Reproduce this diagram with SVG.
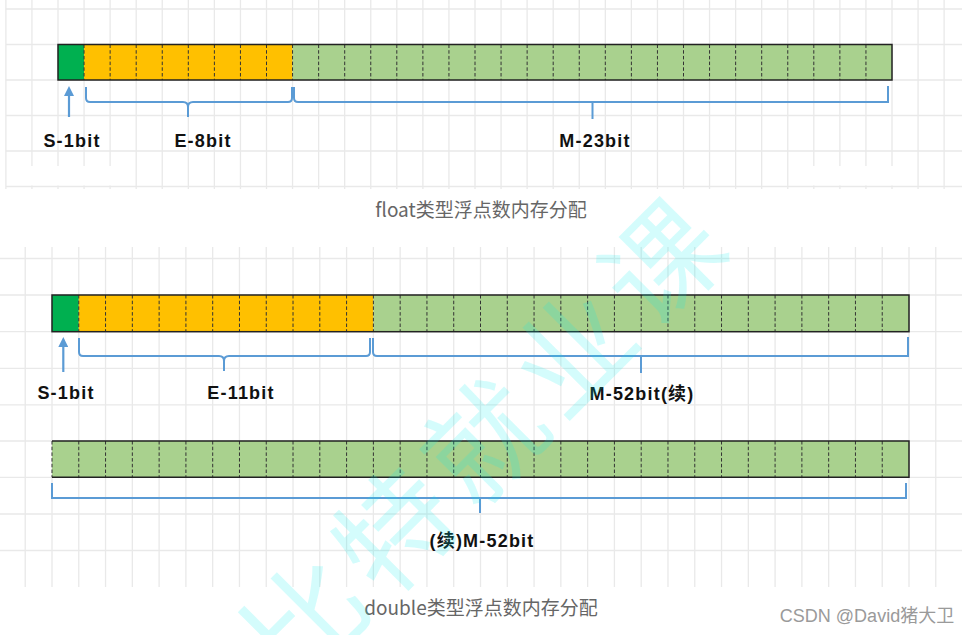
<svg xmlns="http://www.w3.org/2000/svg" width="973" height="635" viewBox="0 0 973 635">
<style>
.grid{stroke:#e9e9e9;stroke-width:1.3;fill:none}
.bar{stroke:#222;stroke-width:1.5}
.div{stroke:#333;stroke-width:1;stroke-dasharray:3.5 2.2;fill:none}
.brace{stroke:#5b9bd5;stroke-width:2;fill:none}
.arrow{stroke:#5b9bd5;stroke-width:2.2;fill:none}
.lbl{font-family:"Liberation Sans","Noto Sans CJK SC",sans-serif;font-weight:bold;font-size:18px;fill:#111;letter-spacing:1.2px;text-anchor:middle}
.cap{font-family:"Noto Sans CJK SC","Noto Sans",sans-serif;font-size:19px;fill:#666;text-anchor:middle}
.s{fill:#00b050}.e{fill:#ffc000}.m{fill:#a9d18e}
</style>
<defs>
<marker id="ah" markerUnits="userSpaceOnUse" markerWidth="10" markerHeight="10" viewBox="0 0 10 10" refX="1" refY="5" orient="auto">
<path d="M0,0 L10,5 L0,10 z" fill="#5b9bd5"/>
</marker>
</defs>
<rect width="973" height="635" fill="#fff"/>
<g id="grid-top">
<path class="grid" d="M5.88,0V189M31.94,0V189M58,0V189M84.06,0V189M110.13,0V189M136.19,0V189M162.25,0V189M188.31,0V189M214.38,0V189M240.44,0V189M266.5,0V189M292.56,0V189M318.63,0V189M344.69,0V189M370.75,0V189M396.81,0V189M422.88,0V189M448.94,0V189M475,0V189M501.06,0V189M527.13,0V189M553.19,0V189M579.25,0V189M605.31,0V189M631.38,0V189M657.44,0V189M683.5,0V189M709.56,0V189M735.63,0V189M761.69,0V189M787.75,0V189M813.81,0V189M839.88,0V189M865.94,0V189M892,0V189M918.06,0V189M944.13,0V189"/>
<rect x="9" y="166" width="124" height="19.5" fill="#fff"/>
<rect x="792" y="166" width="124" height="19.5" fill="#fff"/>
<path class="grid" d="M5.88,9H962M5.88,44.5H962M5.88,80H962M5.88,115.5H962M5.88,151H962M5.88,186.5H962"/>
</g>
<g id="grid-bottom">
<path class="grid" d="M25.22,247V587M52,247V587M78.78,247V587M105.56,247V587M132.34,247V587M159.13,247V587M185.91,247V587M212.69,247V587M239.47,247V587M266.25,247V587M293.03,247V587M319.81,247V587M346.59,247V587M373.38,247V587M400.16,247V587M426.94,247V587M453.72,247V587M480.5,247V587M507.28,247V587M534.06,247V587M560.84,247V587M587.63,247V587M614.41,247V587M641.19,247V587M667.97,247V587M694.75,247V587M721.53,247V587M748.31,247V587M775.09,247V587M801.88,247V587M828.66,247V587M855.44,247V587M882.22,247V587M909,247V587M935.78,247V587"/>
<path class="grid" d="M0,258.5H962M0,295H962M0,331.7H962M0,368.3H962M0,404.9H962M0,441H962M0,477.3H962M0,514H962M0,550.5H962"/>
</g>
<g id="float-bar">
<rect class="s" x="58" y="44.5" width="26.06" height="35.5"/>
<rect class="e" x="84.06" y="44.5" width="208.5" height="35.5"/>
<rect class="m" x="292.56" y="44.5" width="599.44" height="35.5"/>
<path class="div" d="M84.06,44.5V80M110.13,44.5V80M136.19,44.5V80M162.25,44.5V80M188.31,44.5V80M214.38,44.5V80M240.44,44.5V80M266.5,44.5V80M292.56,44.5V80M318.63,44.5V80M344.69,44.5V80M370.75,44.5V80M396.81,44.5V80M422.88,44.5V80M448.94,44.5V80M475,44.5V80M501.06,44.5V80M527.13,44.5V80M553.19,44.5V80M579.25,44.5V80M605.31,44.5V80M631.38,44.5V80M657.44,44.5V80M683.5,44.5V80M709.56,44.5V80M735.63,44.5V80M761.69,44.5V80M787.75,44.5V80M813.81,44.5V80M839.88,44.5V80M865.94,44.5V80"/>
<rect class="bar" x="58" y="44.5" width="834" height="35.5" fill="none"/>
</g>
<g id="double-bar-1">
<rect class="s" x="52" y="295" width="26.78" height="36.7"/>
<rect class="e" x="78.78" y="295" width="294.6" height="36.7"/>
<rect class="m" x="373.38" y="295" width="535.62" height="36.7"/>
<path class="div" d="M78.78,295V331.7M105.56,295V331.7M132.34,295V331.7M159.13,295V331.7M185.91,295V331.7M212.69,295V331.7M239.47,295V331.7M266.25,295V331.7M293.03,295V331.7M319.81,295V331.7M346.59,295V331.7M373.38,295V331.7M400.16,295V331.7M426.94,295V331.7M453.72,295V331.7M480.5,295V331.7M507.28,295V331.7M534.06,295V331.7M560.84,295V331.7M587.63,295V331.7M614.41,295V331.7M641.19,295V331.7M667.97,295V331.7M694.75,295V331.7M721.53,295V331.7M748.31,295V331.7M775.09,295V331.7M801.88,295V331.7M828.66,295V331.7M855.44,295V331.7M882.22,295V331.7"/>
<rect class="bar" x="52" y="295" width="857" height="36.7" fill="none"/>
</g>
<g id="double-bar-2">
<rect class="m" x="52" y="441" width="857" height="36.3"/>
<path class="div" d="M52,441V477.3M78.78,441V477.3M105.56,441V477.3M132.34,441V477.3M159.13,441V477.3M185.91,441V477.3M212.69,441V477.3M239.47,441V477.3M266.25,441V477.3M293.03,441V477.3M319.81,441V477.3M346.59,441V477.3M373.38,441V477.3M400.16,441V477.3M426.94,441V477.3M453.72,441V477.3M480.5,441V477.3M507.28,441V477.3M534.06,441V477.3M560.84,441V477.3M587.63,441V477.3M614.41,441V477.3M641.19,441V477.3M667.97,441V477.3M694.75,441V477.3M721.53,441V477.3M748.31,441V477.3M775.09,441V477.3M801.88,441V477.3M828.66,441V477.3M855.44,441V477.3M882.22,441V477.3"/>
<path class="bar" d="M52,441H909V477.3H52" fill="none"/>
</g>
<g id="connectors">
<line class="arrow" x1="69" y1="117" x2="69" y2="95" marker-end="url(#ah)"/>
<path class="brace" d="M86,87V98Q86,102 90,102H183Q188,102 188,107V117M188,107Q188,102 193,102H288Q292,102 292,98V87"/>
<path class="brace" d="M294,87V98Q294,102 298,102H888V86M592.5,102V119"/>
<line class="arrow" x1="63.3" y1="372" x2="63.3" y2="346" marker-end="url(#ah)"/>
<path class="brace" d="M79,338V352Q79,356 83,356H219Q224,356 224,361V371M224,361Q224,356 229,356H366Q370,356 370,352V338"/>
<path class="brace" d="M373,338V352Q373,356 377,356H908V337M641,356V373"/>
<path class="brace" d="M52,483V498H906V483M480,498V513"/>
</g>
<g id="labels">
<text class="lbl" x="72" y="147">S-1bit</text>
<text class="lbl" x="203" y="147">E-8bit</text>
<text class="lbl" x="595" y="147">M-23bit</text>
<text class="cap" x="481" y="217">float类型浮点数内存分配</text>
<text class="lbl" x="66" y="399">S-1bit</text>
<text class="lbl" x="241" y="399">E-11bit</text>
<text class="lbl" x="642" y="400">M-52bit(续)</text>
<text class="lbl" x="482" y="547">(续)M-52bit</text>
<text class="cap" x="481" y="615">double类型浮点数内存分配</text>
<text x="867" y="622" style="font-family:'Liberation Sans','Noto Sans CJK SC',sans-serif;font-size:18px;fill:#9a9a9a;text-anchor:middle">CSDN @David猪大卫</text>
</g>
<g id="watermark">
<text x="482" y="432" transform="rotate(-45 482 432)" style="font-family:'Noto Sans CJK SC',sans-serif;font-size:116px;font-weight:normal;fill:#00f0f0;fill-opacity:0.17;letter-spacing:10px;text-anchor:middle;dominant-baseline:central">比特就业课</text>
</g>
</svg>
